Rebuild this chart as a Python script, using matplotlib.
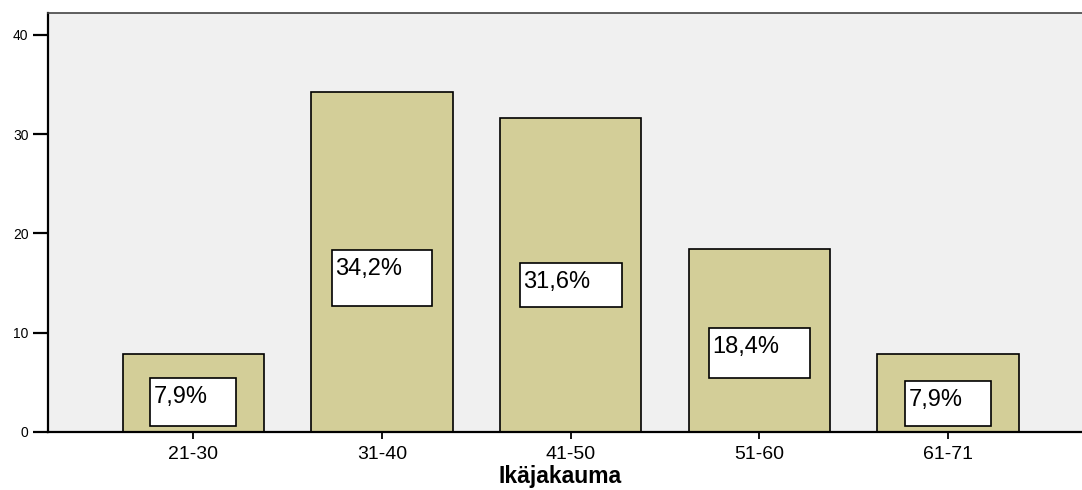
import matplotlib.pyplot as plt
from matplotlib.patches import Rectangle

# age groups and share of respondents (%)
age_groups = ['21-30', '31-40', '41-50', '51-60', '61-71']
percent = [7.9, 34.2, 31.6, 18.4, 7.9]
labels = ['7,9%', '34,2%', '31,6%', '18,4%', '7,9%']

# where SPSS put the label boxes (data units)
box_bottom = [0.6, 12.7, 12.6, 5.4, 0.6]
box_top = [5.4, 18.3, 17.0, 10.5, 5.1]
box_width = [0.455, 0.535, 0.54, 0.535, 0.455]

plt.rcParams['font.family'] = ['Liberation Sans', 'DejaVu Sans']

fig = plt.figure(figsize=(10.82, 4.90), dpi=100)
ax = fig.add_axes([0.0444, 0.1184, 0.9556, 0.8551])
ax.set_facecolor('#f0f0f0')

x = list(range(len(age_groups)))
ax.bar(x, percent, width=0.75, color='#d3ce98', edgecolor='black', linewidth=1.2, zorder=2)

# white label boxes with the percentages
for i in x:
    left = i - box_width[i] / 2
    ax.add_patch(Rectangle((left, box_bottom[i]), box_width[i], box_top[i] - box_bottom[i],
                           facecolor='white', edgecolor='black', linewidth=1.2, zorder=3))
    ax.annotate(labels[i], (left, box_top[i]), xytext=(2.5, -18), textcoords='offset points',
                ha='left', va='baseline', fontsize=17, zorder=4)

ax.set_xlim(-0.77, 4.71)
ax.set_ylim(0, 42.2)
ax.set_yticks([0, 10, 20, 30, 40])
ax.set_xticks(x)
ax.set_xticklabels(age_groups, fontsize=14)
ax.tick_params(axis='y', labelsize=10, length=11, width=1.6, pad=3)
ax.tick_params(axis='x', length=5, width=1.3, pad=5)

ax.spines['right'].set_visible(False)
ax.spines['top'].set_color('#444444')
ax.spines['top'].set_linewidth(1.2)
ax.spines['left'].set_linewidth(1.6)
ax.spines['bottom'].set_linewidth(1.6)

ax.set_xlabel('Ikäjakauma', fontsize=16.5, fontweight='bold')
ax.xaxis.set_label_coords(0.495, -0.079)

plt.savefig('out.png', dpi=100)
